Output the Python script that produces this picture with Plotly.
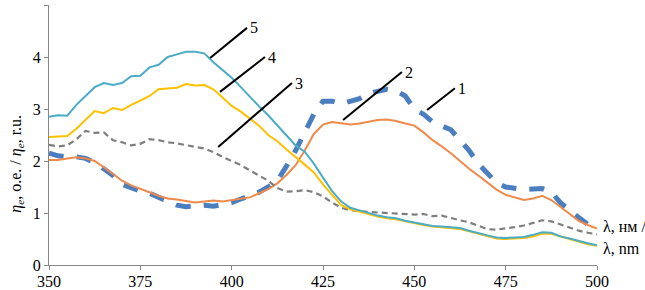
import plotly.graph_objects as go

wavelength = [350, 352.5, 355, 357.5, 360, 362.5, 365, 367.5, 370, 372.5,
              375, 377.5, 380, 382.5, 385, 387.5, 390, 392.5, 395, 397.5,
              400, 402.5, 405, 407.5, 410, 412.5, 415, 417.5, 420, 422.5,
              425, 427.5, 430, 432.5, 435, 437.5, 440, 442.5, 445, 447.5,
              450, 452.5, 455, 457.5, 460, 462.5, 465, 467.5, 470, 472.5,
              475, 477.5, 480, 482.5, 485, 487.5, 490, 492.5, 495, 497.5, 500]

curve1 = [2.15, 2.10, 2.08, 2.08, 2.05, 1.97, 1.85, 1.72, 1.55, 1.48,
          1.42, 1.38, 1.30, 1.22, 1.15, 1.12, 1.13, 1.15, 1.13, 1.17,
          1.20, 1.27, 1.33, 1.40, 1.50, 1.62, 1.90, 2.20, 2.55, 2.90,
          3.15, 3.15, 3.10, 3.15, 3.20, 3.30, 3.35, 3.38, 3.35, 3.25,
          3.00, 2.90, 2.75, 2.68, 2.60, 2.40, 2.20, 1.95, 1.75, 1.58,
          1.50, 1.47, 1.45, 1.46, 1.47, 1.40, 1.20, 1.05, 0.90, 0.78, 0.70]

curve2 = [2.02, 2.02, 2.05, 2.07, 2.05, 2.00, 1.88, 1.75, 1.62, 1.53,
          1.47, 1.40, 1.33, 1.28, 1.26, 1.23, 1.20, 1.22, 1.24, 1.22,
          1.25, 1.27, 1.30, 1.38, 1.46, 1.57, 1.73, 1.92, 2.20, 2.52,
          2.70, 2.75, 2.72, 2.70, 2.72, 2.75, 2.79, 2.80, 2.77, 2.72,
          2.68, 2.55, 2.40, 2.28, 2.15, 2.00, 1.85, 1.72, 1.58, 1.45,
          1.35, 1.30, 1.25, 1.28, 1.33, 1.25, 1.12, 0.98, 0.85, 0.77, 0.70]

curve3 = [2.31, 2.28, 2.30, 2.42, 2.58, 2.54, 2.55, 2.40, 2.36, 2.30,
          2.33, 2.42, 2.40, 2.36, 2.34, 2.30, 2.27, 2.24, 2.17, 2.08,
          2.00, 1.92, 1.82, 1.72, 1.62, 1.48, 1.41, 1.42, 1.44, 1.40,
          1.32, 1.20, 1.10, 1.05, 1.03, 1.02, 1.01, 1.00, 1.00, 0.99,
          0.97, 0.98, 0.94, 0.95, 0.90, 0.86, 0.82, 0.76, 0.69, 0.68,
          0.70, 0.73, 0.76, 0.81, 0.86, 0.84, 0.78, 0.72, 0.66, 0.62, 0.59]

curve4 = [2.46, 2.47, 2.48, 2.62, 2.79, 2.96, 2.92, 3.02, 2.98, 3.08,
          3.16, 3.25, 3.38, 3.40, 3.41, 3.48, 3.45, 3.46, 3.38, 3.22,
          3.06, 2.95, 2.82, 2.68, 2.50, 2.38, 2.22, 2.08, 1.93, 1.78,
          1.55, 1.35, 1.15, 1.07, 1.02, 0.98, 0.93, 0.90, 0.88, 0.84,
          0.80, 0.77, 0.74, 0.72, 0.71, 0.69, 0.65, 0.60, 0.55, 0.51,
          0.50, 0.51, 0.52, 0.55, 0.60, 0.60, 0.55, 0.50, 0.45, 0.40, 0.37]

curve5 = [2.85, 2.88, 2.87, 3.08, 3.25, 3.42, 3.50, 3.46, 3.50, 3.63,
          3.64, 3.80, 3.85, 4.00, 4.05, 4.10, 4.10, 4.07, 3.90, 3.75,
          3.60, 3.42, 3.23, 3.05, 2.88, 2.68, 2.50, 2.30, 2.18, 1.95,
          1.68, 1.42, 1.22, 1.10, 1.05, 1.00, 0.95, 0.92, 0.90, 0.85,
          0.82, 0.79, 0.75, 0.74, 0.73, 0.71, 0.66, 0.61, 0.57, 0.53,
          0.52, 0.53, 0.54, 0.58, 0.63, 0.62, 0.55, 0.51, 0.46, 0.42, 0.38]

x_ticks = [350, 375, 400, 425, 450, 475, 500]
y_ticks = [0, 1, 2, 3, 4, 5]

# callout labels: (text, point on curve, line end)
callouts = [
    ("1", (453.5, 2.98), (461.1, 3.40)),
    ("2", (430.5, 2.79), (446.6, 3.71)),
    ("3", (396.3, 2.27), (416.5, 3.50)),
    ("4", (396.8, 3.33), (409.1, 4.00)),
    ("5", (394.1, 3.98), (404.2, 4.56)),
]

FONT = "Times New Roman"

fig = go.Figure()
fig.add_trace(go.Scatter(x=wavelength, y=curve1, mode="lines", name="1",
                         line=dict(color="#4A7EBF", width=5, dash="15px,13px")))
fig.add_trace(go.Scatter(x=wavelength, y=curve2, mode="lines", name="2",
                         line=dict(color="#F08A4B", width=2)))
fig.add_trace(go.Scatter(x=wavelength, y=curve3, mode="lines", name="3",
                         line=dict(color="#7F7F7F", width=2.2, dash="6px,4px")))
fig.add_trace(go.Scatter(x=wavelength, y=curve4, mode="lines", name="4",
                         line=dict(color="#FFC000", width=2)))
fig.add_trace(go.Scatter(x=wavelength, y=curve5, mode="lines", name="5",
                         line=dict(color="#4BACC6", width=2)))

for label, (x0, y0), (x1, y1) in callouts:
    fig.add_shape(type="line", x0=x0, y0=y0, x1=x1, y1=y1, xref="x", yref="y",
                  line=dict(color="black", width=2))
    fig.add_annotation(x=x1, y=y1, text=label, showarrow=False, xref="x", yref="y",
                       xanchor="left", yanchor="middle", xshift=1,
                       font=dict(family=FONT, size=16, color="black"))

fig.add_annotation(x=-0.060, y=0.39, xref="paper", yref="paper",
                   text="<i>η</i><sub><i>e</i></sub>, о.е. / <i>η</i><sub><i>e</i></sub>, r.u.",
                   textangle=-90, showarrow=False, xanchor="center", yanchor="middle",
                   font=dict(family=FONT, size=16, color="black"))
fig.add_annotation(x=1.007, y=0.15, xref="paper", yref="paper", text="λ, нм /",
                   showarrow=False, xanchor="left", yanchor="middle",
                   font=dict(family=FONT, size=16, color="black"))
fig.add_annotation(x=1.007, y=0.065, xref="paper", yref="paper", text="λ, nm",
                   showarrow=False, xanchor="left", yanchor="middle",
                   font=dict(family=FONT, size=16, color="black"))

axis_common = dict(showgrid=False, zeroline=False, showline=True, linecolor="#868686",
                   linewidth=1, ticks="outside", ticklen=4, tickcolor="#868686",
                   automargin=False,
                   tickfont=dict(family=FONT, size=16, color="black"))
fig.update_xaxes(range=[350, 500], tickvals=x_ticks, ticklabelstandoff=-2, **axis_common)
fig.update_yaxes(range=[0, 5], tickvals=y_ticks, **axis_common)

fig.update_layout(width=645, height=290, margin=dict(l=49, r=48, t=5, b=25),
                  paper_bgcolor="white", plot_bgcolor="white", showlegend=False,
                  font=dict(family=FONT))

fig.write_html("out.html", config={"displayModeBar": False},
               post_script="document.body.style.margin='0';document.body.style.overflow='hidden';")
